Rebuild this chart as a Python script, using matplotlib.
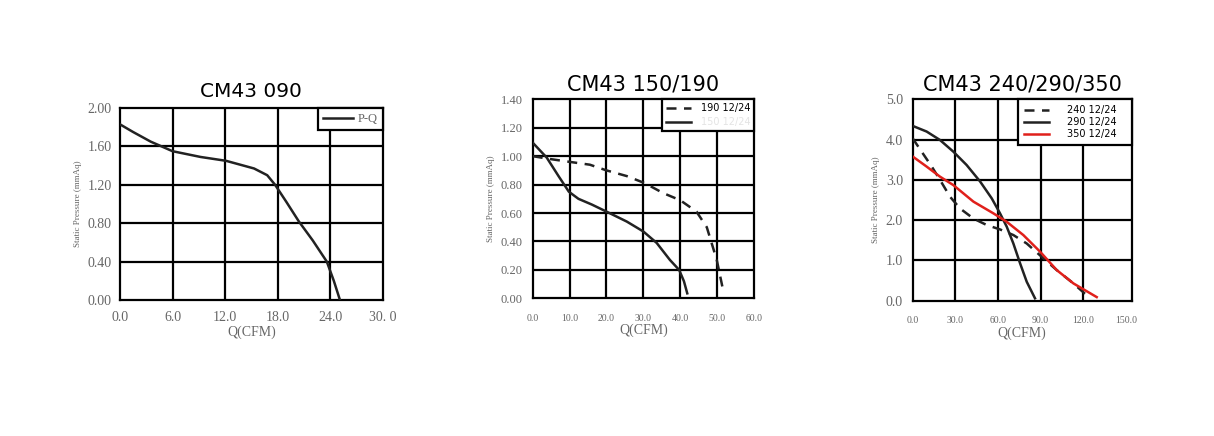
import matplotlib
matplotlib.use("Agg")
import matplotlib.pyplot as plt

# CM43 090 curve
q_090 = [0.0, 1.5, 3.5, 6.0, 9.2, 12.1, 15.3, 16.8, 17.7, 19.0, 20.4, 22.0, 23.6, 24.4, 25.1]
p_090 = [1.83, 1.75, 1.65, 1.55, 1.49, 1.45, 1.37, 1.30, 1.20, 1.02, 0.82, 0.62, 0.40, 0.20, 0.0]

# CM43 150/190 curves
q_190 = [0.0, 4.7, 10.0, 15.5, 20.0, 25.5, 30.4, 35.4, 40.0, 44.4, 47.2, 49.9, 51.8]
p_190 = [1.0, 0.98, 0.96, 0.94, 0.90, 0.86, 0.81, 0.74, 0.69, 0.61, 0.50, 0.27, 0.035]
q_150 = [0.0, 3.8, 7.0, 9.8, 12.4, 16.0, 20.0, 25.5, 30.0, 33.6, 37.2, 39.7, 41.0, 41.9]
p_150 = [1.095, 0.99, 0.86, 0.75, 0.70, 0.66, 0.61, 0.54, 0.47, 0.39, 0.27, 0.20, 0.12, 0.035]

# CM43 240/290/350 curves
q_240 = [0.0, 6.3, 13.4, 19.2, 26.3, 33.3, 42.7, 52.0, 61.4, 70.8, 80.2, 90.7, 101.3, 113.0, 124.7]
p_240 = [4.03, 3.70, 3.33, 3.00, 2.58, 2.29, 2.04, 1.88, 1.77, 1.63, 1.42, 1.09, 0.76, 0.43, 0.06]
q_290 = [0.0, 9.8, 19.2, 28.6, 37.9, 47.4, 55.6, 61.4, 66.1, 70.8, 75.5, 80.2, 86.0]
p_290 = [4.34, 4.20, 3.99, 3.70, 3.37, 2.96, 2.54, 2.17, 1.84, 1.42, 0.93, 0.47, 0.06]
q_350 = [0.0, 9.8, 19.2, 28.6, 42.7, 56.7, 66.1, 77.8, 89.5, 101.3, 113.0, 129.4]
p_350 = [3.58, 3.33, 3.08, 2.87, 2.46, 2.17, 1.96, 1.63, 1.22, 0.76, 0.43, 0.09]

x1_ticks = [0, 6, 12, 18, 24, 30]
x1_labels = ["0.0", "6.0", "12.0", "18.0", "24.0", "30. 0"]
y1_ticks = [0.0, 0.4, 0.8, 1.2, 1.6, 2.0]
x2_ticks = [0, 10, 20, 30, 40, 50, 60]
y2_ticks = [0.0, 0.2, 0.4, 0.6, 0.8, 1.0, 1.2, 1.4]
x3_ticks = [0, 30, 60, 90, 120, 150]
y3_ticks = [0, 1, 2, 3, 4, 5]

serif = "Liberation Serif"
sans = "DejaVu Sans"
gray = "#666666"

fig = plt.figure(figsize=(12.14, 4.36), dpi=100)

ax1 = fig.add_axes([0.0988, 0.3119, 0.2166, 0.4404])
ax2 = fig.add_axes([0.4388, 0.3158, 0.1823, 0.4564])
ax3 = fig.add_axes([0.7518, 0.3103, 0.1804, 0.4619])


def style(ax, xt, xl, yt, yl, xlim, ylim, gx, gy, xsize, ysize, xpad, ypad):
    ax.set_xlim(*xlim)
    ax.set_ylim(*ylim)
    ax.set_xticks(xt)
    ax.set_xticklabels(xl, fontfamily=serif, fontsize=xsize, color=gray)
    ax.set_yticks(yt)
    ax.set_yticklabels(yl, fontfamily=serif, fontsize=ysize, color=gray)
    ax.tick_params(length=0)
    ax.tick_params(axis="x", pad=xpad)
    ax.tick_params(axis="y", pad=ypad)
    # grid drawn as plain lines
    for v in gx:
        ax.axvline(v, color="black", lw=1.6, zorder=1)
    for v in gy:
        ax.axhline(v, color="black", lw=1.6, zorder=1)
    for s in ax.spines.values():
        s.set_linewidth(1.6)
        s.set_color("black")
    ax.set_xlabel("Q(CFM)", fontfamily=serif, fontsize=10, color=gray, labelpad=1)
    ax.set_ylabel("Static Pressure (mmAq)", fontfamily=serif, fontsize=6.5, color=gray, labelpad=4)


# Panel 1
style(ax1, x1_ticks, x1_labels, y1_ticks, [f"{v:.2f}" for v in y1_ticks],
      (0, 30), (0, 2.0), x1_ticks[1:-1], y1_ticks[1:-1], 10, 10, 8, 6)
ax1.plot(q_090, p_090, color="#222222", lw=1.8, label="P-Q", zorder=3)
leg1 = ax1.legend(loc="upper right", borderaxespad=0, fancybox=False, framealpha=1,
                  edgecolor="black", handlelength=2.4, handletextpad=0.4,
                  prop={"family": serif, "size": 9}, labelcolor=gray)
leg1.get_frame().set_linewidth(1.6)
ax1.set_title("CM43 090", fontfamily=sans, fontsize=14.5, pad=8)

# Panel 2
style(ax2, x2_ticks, [f"{v:.1f}" for v in x2_ticks], y2_ticks, [f"{v:.2f}" for v in y2_ticks],
      (0, 60), (0, 1.4), x2_ticks[1:-1], y2_ticks[1:-1], 7, 9, 11, 7)
ax2.plot(q_190, p_190, color="#222222", lw=1.8, ls=(0, (4, 3)), label="190 12/24", zorder=3)
ax2.plot(q_150, p_150, color="#222222", lw=1.8, label="150 12/24", zorder=3)
leg2 = ax2.legend(loc="upper right", borderaxespad=0, fancybox=False, framealpha=1,
                  edgecolor="black", handlelength=2.6, handletextpad=1.0, labelspacing=0.4,
                  prop={"family": sans, "size": 7})
leg2.get_frame().set_linewidth(1.6)
leg2.get_texts()[1].set_color("#e4e4e4")
ax2.set_title("CM43 150/190", fontfamily=sans, fontsize=15, pad=6)

# Panel 3
style(ax3, x3_ticks, [f"{v:.1f}" for v in x3_ticks], y3_ticks, [f"{v:.1f}" for v in y3_ticks],
      (0, 154), (0, 5.0), x3_ticks[1:-1], y3_ticks[1:-1], 7, 10, 11, 7)
ax3.plot(q_240, p_240, color="#222222", lw=1.8, ls=(0, (4, 3)), label="240 12/24   ", zorder=3)
ax3.plot(q_290, p_290, color="#222222", lw=1.8, label="290 12/24   ", zorder=3)
ax3.plot(q_350, p_350, color="#e0201b", lw=1.8, label="350 12/24   ", zorder=4)
leg3 = ax3.legend(loc="upper right", borderaxespad=0, fancybox=False, framealpha=1,
                  edgecolor="black", handlelength=2.6, handletextpad=1.8, labelspacing=0.2,
                  borderpad=0.6, prop={"family": sans, "size": 7})
leg3.get_frame().set_linewidth(1.6)
ax3.set_title("CM43 240/290/350", fontfamily=sans, fontsize=15, pad=6)

fig.savefig("out.png", dpi=100, facecolor="white")
